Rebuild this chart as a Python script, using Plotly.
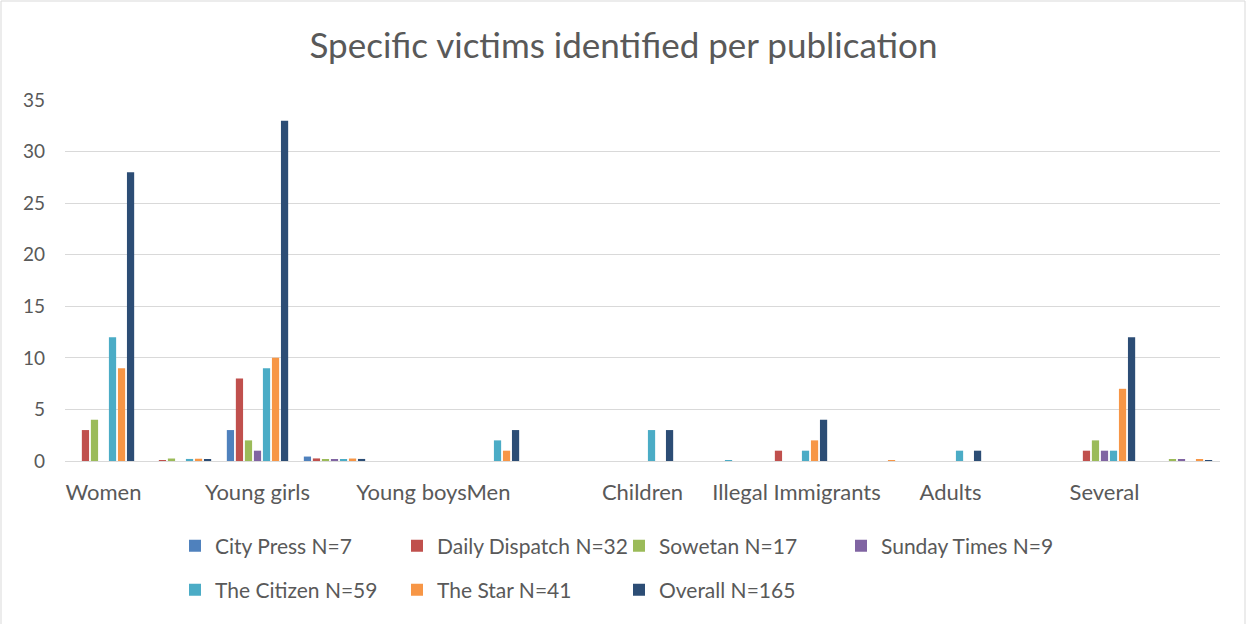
import plotly.graph_objects as go

# Category slots along the x axis (count rows and share rows alternate in the source table)
categories = list(range(15))
tick_positions = [0, 2, 4, 5, 7, 9, 11, 13]
tick_labels = ["Women", "Young girls", "Young boys", "Men", "Children",
               "Illegal Immigrants", "Adults", "Several"]

city_press     = [0, 0,    3, 0.43, 0, 0, 0, 0, 0,    0, 0,    0, 0, 0, 0]
daily_dispatch = [3, 0.09, 8, 0.25, 0, 0, 0, 0, 0,    1, 0,    0, 0, 1, 0]
sowetan        = [4, 0.24, 2, 0.12, 0, 0, 0, 0, 0,    0, 0,    0, 0, 2, 0.12]
sunday_times   = [0, 0,    1, 0.11, 0, 0, 0, 0, 0,    0, 0,    0, 0, 1, 0.11]
the_citizen    = [12, 0.2, 9, 0.15, 0, 2, 0, 3, 0.05, 1, 0,    1, 0, 1, 0]
the_star       = [9, 0.22, 10, 0.24, 0, 1, 0, 0, 0,   2, 0.05, 0, 0, 7, 0.17]
overall        = [28, 0.17, 33, 0.2, 0, 3, 0, 3, 0,   4, 0,    1, 0, 12, 0.07]

series = [
    ("City Press N=7", city_press, "#4F81BD", "legend"),
    ("Daily Dispatch N=32", daily_dispatch, "#C0504D", "legend"),
    ("Sowetan N=17", sowetan, "#9BBB59", "legend"),
    ("Sunday Times N=9", sunday_times, "#8064A2", "legend"),
    ("The Citizen N=59", the_citizen, "#4BACC6", "legend2"),
    ("The Star N=41", the_star, "#F79646", "legend2"),
    ("Overall N=165", overall, "#2C4D75", "legend2"),
]

FONT = "Lato"
GREY = "#595959"

fig = go.Figure()
for name, vals, color, leg in series:
    fig.add_trace(go.Bar(
        x=categories, y=vals, name=name, legend=leg,
        marker=dict(color=color, line=dict(width=0)),
    ))

W, H = 1247, 624
ml, mr, mt, mb = 65, 27, 100, 163
pw, ph = W - ml - mr, H - mt - mb

def px_x(x):
    return (x - ml) / pw

def px_y(y):
    return (H - mb - y) / ph

legend_style = dict(orientation="h", xanchor="left", yanchor="middle",
                    entrywidth=177, entrywidthmode="pixels",
                    font=dict(family=FONT, size=21, color=GREY),
                    bgcolor="rgba(0,0,0,0)", itemclick=False)

fig.update_layout(
    width=W, height=H,
    margin=dict(l=ml, r=mr, t=mt, b=mb),
    paper_bgcolor="white", plot_bgcolor="white",
    font=dict(family=FONT, color=GREY),
    barmode="group", bargap=0.18, bargroupgap=0.2,
    title=dict(text="Specific victims identified per publication",
               x=0.5, xanchor="center", xref="container",
               y=1 - 46 / H, yanchor="middle",
               font=dict(family=FONT, size=35, color=GREY)),
    xaxis=dict(range=[-0.5, 14.5], tickmode="array", tickvals=tick_positions,
               ticktext=tick_labels, tickangle=0, showgrid=False,
               showline=True, linecolor="#D9D9D9", linewidth=1, ticks="",
               ticklabelstandoff=12,
               tickfont=dict(family=FONT, size=22, color=GREY), zeroline=False),
    yaxis=dict(range=[0, 35], tickmode="linear", tick0=0, dtick=5,
               showgrid=True, gridcolor="#D9D9D9", gridwidth=1,
               zeroline=False, showline=False, ticks="",
               ticklabelstandoff=19,
               tickfont=dict(family=FONT, size=19, color=GREY)),
    legend=dict(x=px_x(175), y=px_y(546), **legend_style),
    legend2=dict(x=px_x(175), y=px_y(590), **legend_style),
    shapes=[dict(type="rect", xref="paper", yref="paper",
                 x0=px_x(1), x1=px_x(W - 2), y0=px_y(H + 10), y1=px_y(1),
                 line=dict(color="#D9D9D9", width=1), fillcolor="rgba(0,0,0,0)",
                 layer="below")],
)

fig.write_html("out.html")
